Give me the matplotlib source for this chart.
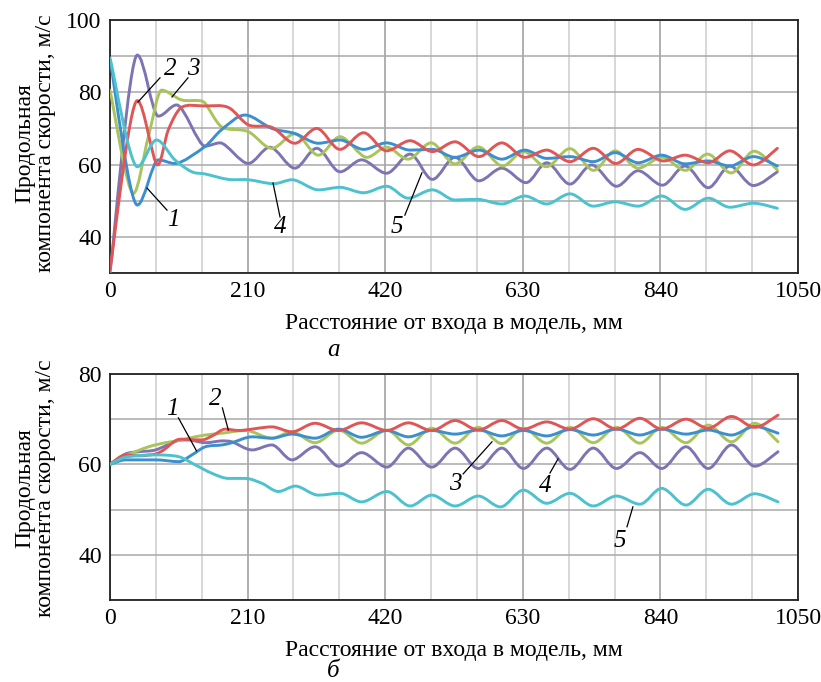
import matplotlib
matplotlib.use("Agg")
import matplotlib.pyplot as plt
from matplotlib.ticker import MultipleLocator
from matplotlib.path import Path
from matplotlib.patches import PathPatch

plt.rcParams['font.family'] = ['Liberation Serif', 'DejaVu Serif']

# ---------------- data: panel a ----------------
a1_x = [0, 41.7, 73.8, 99, 145, 170, 206, 247, 282, 318, 351, 387, 422, 458, 492, 526.5, 563, 598, 633, 666.5, 702, 737.6, 771, 806, 842, 877.6, 913, 946, 982, 1018.5]
a1_y = [89.1, 48.8, 61.3, 60.3, 65, 69.6, 73.7, 70, 68.6, 65.9, 66.8, 64.2, 66, 64, 64.2, 62, 64, 61.5, 64, 61.7, 62.2, 60.8, 63.3, 60.5, 62.6, 60.2, 61, 59.6, 62.2, 59.6]

a2_x = [0, 41.7, 72.8, 89, 109, 145, 180.6, 211, 247, 282, 315.5, 351, 387, 422, 458, 492, 526.5, 563, 598, 633, 666.5, 702, 737.6, 772, 806, 844.5, 877.6, 913, 946, 982, 1018.5]
a2_y = [31, 77.7, 59.9, 69.6, 75.8, 76.2, 75.8, 71, 70.3, 65.9, 70, 64.2, 68.8, 63.8, 66.6, 63.6, 66.3, 62.2, 66, 62, 64, 60.8, 64.5, 60.3, 64.2, 61, 62.6, 60.5, 63.8, 59.9, 64.5]

a3_x = [0, 35.6, 58.5, 79, 109, 135, 145, 170, 211, 247, 282, 318, 351, 392, 422, 455, 490, 526.5, 562, 599, 631, 666, 702, 738, 771, 806, 842.5, 878, 912, 948, 983, 1018.5]
a3_y = [80.6, 52, 67.7, 80.6, 77.9, 77.7, 77, 70.5, 69.1, 64.5, 68.5, 62.6, 67.7, 62, 64.8, 61.5, 66, 60.2, 64.9, 59.6, 63.6, 59.4, 64.4, 58.4, 63.8, 59, 62, 58.4, 62.9, 57.7, 63.7, 58.5]

a4_x = [0, 41.7, 71, 99, 125, 145, 180.6, 211, 250, 278, 318, 351, 387, 422, 455, 492, 526.5, 560, 598, 633, 666.5, 702, 737.6, 771, 806, 842, 877.6, 913, 946, 982, 1018.5]
a4_y = [89.5, 59.4, 66.8, 61.3, 58, 57.4, 55.9, 55.8, 54.7, 55.8, 53, 53.7, 52.2, 54, 50.7, 53, 50.2, 50.4, 49.1, 51.3, 49.1, 51.9, 48.5, 49.7, 48.5, 51.3, 47.6, 50.7, 48.2, 49.3, 47.9]

a5_x = [0, 41.7, 73.8, 101.8, 145, 168, 211, 244, 282, 315.5, 351, 384, 422, 458, 492, 526.5, 563, 598, 635, 666.5, 702, 735, 773, 806, 843, 877.6, 913, 946, 982, 1018.5]
a5_y = [30, 90.3, 73.4, 76.5, 65.1, 66, 60.3, 64.8, 59, 64.5, 58, 61.3, 57.6, 62.9, 55.9, 62, 55.5, 59, 55, 60.5, 54.6, 59.9, 54, 58.3, 54.3, 59.6, 53.6, 59.6, 54.2, 58]

# ---------------- data: panel б ----------------
b1_x = [0, 23.6, 69.5, 105, 125, 145.6, 171, 186, 217, 247, 277.7, 313, 349, 384, 422.5, 455.5, 491, 526.7, 562, 598, 631, 666.5, 702, 737.6, 773, 808.7, 842, 879, 913, 948.5, 984, 1019.5]
b1_y = [60, 61, 61, 60.6, 62.1, 63.9, 64.3, 64.8, 66.1, 65.8, 66.7, 65.8, 67.8, 66, 67.5, 66.1, 67.5, 66.7, 67.6, 66.3, 67.5, 66.3, 67.7, 66.5, 67.8, 66.5, 67.8, 66.7, 67.6, 66.5, 68.4, 66.9]

b2_x = [0, 23.6, 44, 69.5, 82, 102, 120, 140, 156, 176, 196.5, 247, 277.7, 313, 348.7, 384, 422.5, 455.5, 491, 526.7, 562, 598, 631, 666.5, 702, 737.6, 773, 808.7, 842, 879, 913, 948.5, 984, 1019.5]
b2_y = [60, 62.1, 61.9, 62.3, 63.2, 65.4, 65.5, 65.4, 66.3, 67.8, 67.5, 68.3, 67.2, 69.1, 67.5, 69.2, 67.5, 69.2, 67.5, 69.7, 67.6, 69.7, 67.8, 69.4, 67.8, 70.1, 67.8, 70.2, 67.8, 70, 68, 70.6, 68.2, 70.9]

b3_x = [0, 23.6, 59, 84.6, 102, 120, 145.6, 171, 206.5, 247, 277.7, 313, 349, 384, 422.5, 455.5, 491, 526.7, 562, 598, 631, 666.5, 702, 737.6, 773, 808.7, 842, 879, 913, 948.5, 984, 1019.5]
b3_y = [60, 61.9, 63.9, 64.8, 65.2, 65.8, 66.5, 66.9, 67.5, 65.8, 67.2, 64.8, 67.6, 64.7, 67.6, 64.3, 68, 64.7, 68.2, 64.6, 68, 64.7, 68.2, 64.8, 68.2, 64.7, 68.2, 64.8, 68.7, 65, 69.1, 65]

b4_x = [0, 23.6, 44, 69.5, 102, 120, 145.6, 171, 186, 217, 247, 277.7, 313, 349, 384, 422.5, 455.5, 491, 526.7, 562, 598, 631, 666.5, 702, 737.6, 773, 808.7, 842, 879, 913, 948.5, 984, 1019.5]
b4_y = [60, 62.3, 62.8, 63.2, 65.2, 65.4, 64.8, 65.2, 65, 63.2, 64.3, 61, 63.9, 59.6, 62.6, 59.4, 63.6, 59.4, 63.6, 59.1, 63.6, 59.1, 63.6, 58.9, 63.6, 59.1, 62.6, 59.1, 63.9, 59.1, 64.3, 59.6, 62.8]

b5_x = [0, 23.6, 69.5, 105, 130, 156, 181, 206.5, 232, 257, 283, 318, 351, 384, 422.5, 458, 491, 526.7, 562, 596, 631, 666.5, 702, 737.6, 773, 808.7, 842, 879, 913, 948.5, 984, 1019.5]
b5_y = [60, 61.6, 62.1, 61.7, 59.9, 58, 56.9, 56.9, 55.8, 54, 55.2, 53.2, 53.6, 51.7, 54, 50.8, 53.2, 50.8, 53, 50.6, 54.3, 51.4, 53.6, 50.8, 53, 51.2, 54.7, 51, 54.5, 51.2, 53.5, 51.7]

x_ticks = [0, 210, 420, 630, 840, 1050]
a_yticks = [40, 60, 80, 100]
b_yticks = [40, 60, 80]
xlabel = "Расстояние от входа в модель, мм"
ylabel = "Продольная\nкомпонента скорости, м/с"

C_BLUE = "#3b8fd0"
C_RED = "#e05656"
C_GREEN = "#a9c45a"
C_PURPLE = "#7e74b4"
C_CYAN = "#4cc2cf"

FS = 17
LW = 2.1
W, H = 821, 682
fig = plt.figure(figsize=(W / 100, H / 100), dpi=100)


def make_ax(left, top, right, bottom):
    return fig.add_axes([left / W, 1 - bottom / H, (right - left) / W, (bottom - top) / H])


def style(ax, ylim, yticks):
    ax.set_xlim(0, 1050)
    ax.set_ylim(*ylim)
    ax.set_xticks(x_ticks)
    ax.set_yticks(yticks)
    ax.xaxis.set_minor_locator(MultipleLocator(70))
    ax.yaxis.set_minor_locator(MultipleLocator(10))
    ax.grid(which='major', axis='x', color='#9a9a9a', lw=1.1)
    ax.grid(which='minor', axis='x', color='#cdcdcd', lw=1.1)
    ax.grid(which='both', axis='y', color='#a8a8a8', lw=1.1)
    ax.set_axisbelow(True)
    ax.tick_params(which='both', length=0, labelsize=FS, pad=6)
    for s in ax.spines.values():
        s.set_linewidth(1.3)
        s.set_color('#222222')
    ax.set_xlabel(xlabel, fontsize=FS, labelpad=8)


def smooth_line(ax, xs, ys, color):
    """Draw a smooth curve through the read points (Excel-like smoothed line)."""
    pts = list(zip(xs, ys))
    n = len(pts)

    def tangent(i):
        p_prev = pts[max(i - 1, 0)]
        p_next = pts[min(i + 1, n - 1)]
        dx = (p_next[0] - p_prev[0]) / 6.0
        dy = (p_next[1] - p_prev[1]) / 6.0
        if 0 < i < n - 1:
            y0, y1, y2 = pts[i - 1][1], pts[i][1], pts[i + 1][1]
            if (y1 - y0) * (y2 - y1) <= 0:
                dy = 0.0
        return dx, dy

    verts = [pts[0]]
    codes = [Path.MOVETO]
    for i in range(n - 1):
        t1 = tangent(i)
        t2 = tangent(i + 1)
        p1, p2 = pts[i], pts[i + 1]
        seg = p2[0] - p1[0]
        s1 = min(1.0, seg / 3.0 / t1[0]) if t1[0] > 0 else 1.0
        s2 = min(1.0, seg / 3.0 / t2[0]) if t2[0] > 0 else 1.0
        c1 = (p1[0] + t1[0] * s1, p1[1] + t1[1] * s1)
        c2 = (p2[0] - t2[0] * s2, p2[1] - t2[1] * s2)
        verts += [c1, c2, p2]
        codes += [Path.CURVE4] * 3
    ax.add_patch(PathPatch(Path(verts, codes), facecolor='none', edgecolor=color,
                           lw=LW, capstyle='round', joinstyle='round', zorder=3))


def leader(ax, x0, y0, x1, y1, label, tx, ty):
    ax.plot([x0, x1], [y0, y1], color='black', lw=0.9, zorder=5)
    ax.text(tx, ty, label, fontsize=FS + 1, style='italic', ha='center', va='center', zorder=6)


# -------- panel a --------
ax1 = make_ax(110, 20, 798, 273)
style(ax1, (30, 100), a_yticks)
smooth_line(ax1, a5_x, a5_y, C_PURPLE)
smooth_line(ax1, a3_x, a3_y, C_GREEN)
smooth_line(ax1, a1_x, a1_y, C_BLUE)
smooth_line(ax1, a2_x, a2_y, C_RED)
smooth_line(ax1, a4_x, a4_y, C_CYAN)
leader(ax1, 56.5, 53.5, 87, 47.4, "1", 96, 44.7)
leader(ax1, 42.7, 77.3, 76.3, 84, "2", 91.6, 86.4)
leader(ax1, 94.6, 78.7, 119, 84, "3", 126.7, 86.4)
leader(ax1, 248.8, 54.9, 259.5, 45.5, "4", 259.5, 42.6)
leader(ax1, 476, 57.7, 450, 46, "5", 438, 42.6)

# -------- panel б --------
ax2 = make_ax(110, 374, 798, 600)
style(ax2, (30, 80), b_yticks)
smooth_line(ax2, b4_x, b4_y, C_PURPLE)
smooth_line(ax2, b3_x, b3_y, C_GREEN)
smooth_line(ax2, b1_x, b1_y, C_BLUE)
smooth_line(ax2, b2_x, b2_y, C_RED)
smooth_line(ax2, b5_x, b5_y, C_CYAN)
leader(ax2, 104.4, 70.3, 132, 63, "1", 95, 72.2)
leader(ax2, 171.5, 72.5, 180.6, 67.6, "2", 161, 74.4)
leader(ax2, 539, 57.9, 583, 65, "3", 527, 55.6)
leader(ax2, 671.5, 58.1, 683.7, 61.2, "4", 664, 55.2)
leader(ax2, 789, 46.2, 798, 50.6, "5", 778, 43.0)

# y labels
for cy in (143, 488):
    fig.text(35 / W, 1 - cy / H, ylabel, rotation=90, ha='center', va='center',
             fontsize=FS, multialignment='center', linespacing=1.0)

fig.text(333 / W, 1 - 350 / H, "а", fontsize=FS + 1, style='italic', ha='center', va='center')
fig.text(333 / W, 1 - 671 / H, "б", fontsize=FS + 1, style='italic', ha='center', va='center')

fig.savefig("out.png", dpi=100)
